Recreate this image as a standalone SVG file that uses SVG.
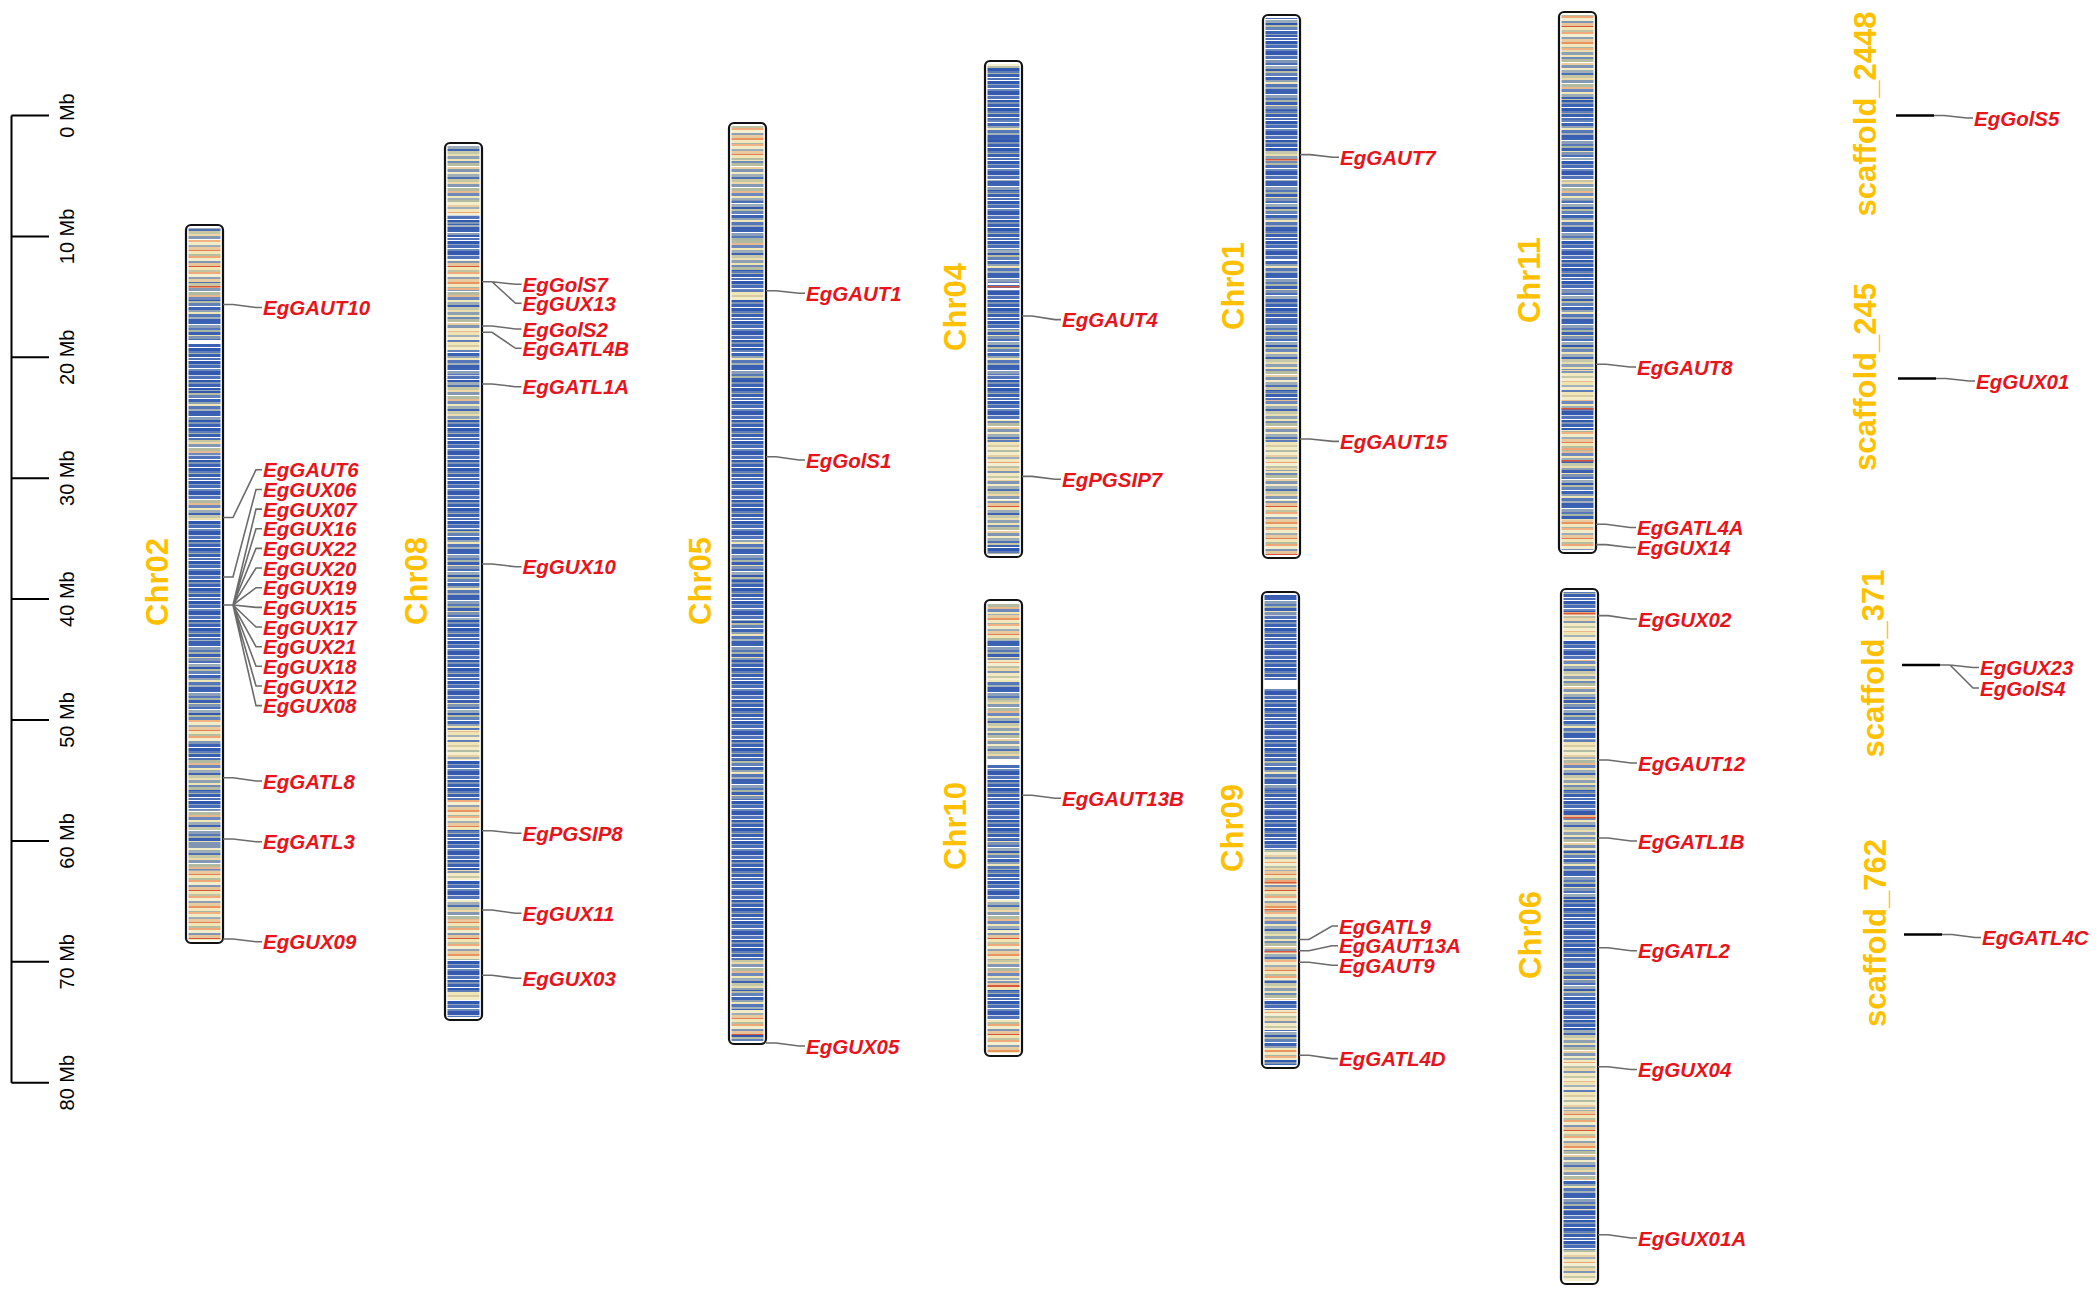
<svg xmlns="http://www.w3.org/2000/svg" width="2100" height="1292" viewBox="0 0 2100 1292">
<style>
.g{font:italic bold 20.5px "Liberation Sans",Arial,sans-serif;fill:#E8141B}
.chr{font:bold 31px "Liberation Sans",Arial,sans-serif;fill:#FFC000;text-anchor:middle}
.sc{font:20px "Liberation Sans",Arial,sans-serif;fill:#000;text-anchor:middle}
.o{fill:none;stroke:#111;stroke-width:2.2}
.c{fill:none;stroke:#6b6b6b;stroke-width:1.6}
.B{fill:url(#pB)}.M{fill:url(#pM)}.X{fill:url(#pX)}.W{fill:url(#pW)}.Y{fill:url(#pY)}
.r{fill:#D9553A}.w{fill:#fff}
</style>
<defs>
<pattern id="pB" width="10" height="40" patternUnits="userSpaceOnUse">
<rect width="10" height="40" fill="#3C62B4"/>
<rect width="10" y="0" height="1" fill="#fff"/><rect width="10" y="1" height="3" fill="#2F58B0"/><rect width="10" y="4" height="1" fill="#8FA3BC"/><rect width="10" y="5" height="3" fill="#4A6DB8"/><rect width="10" y="8" height="1" fill="#fff"/><rect width="10" y="9" height="2" fill="#6C88BC"/><rect width="10" y="11" height="4" fill="#3358AE"/><rect width="10" y="15" height="1" fill="#C9D4E6"/><rect width="10" y="16" height="3" fill="#5373B8"/><rect width="10" y="19" height="1" fill="#fff"/><rect width="10" y="20" height="2" fill="#2F58B0"/><rect width="10" y="22" height="2" fill="#7F95B3"/><rect width="10" y="24" height="3" fill="#3C62B4"/><rect width="10" y="27" height="1" fill="#fff"/><rect width="10" y="28" height="3" fill="#2F58B0"/><rect width="10" y="31" height="2" fill="#5E7DB8"/><rect width="10" y="33" height="1" fill="#A8B4A4"/><rect width="10" y="34" height="3" fill="#3A5FB2"/><rect width="10" y="37" height="1" fill="#fff"/><rect width="10" y="38" height="2" fill="#4C6FB8"/>
</pattern>
<pattern id="pM" width="10" height="46" patternUnits="userSpaceOnUse">
<rect width="10" height="46" fill="#7088B6"/>
<rect width="10" y="0" height="2" fill="#3C62B4"/><rect width="10" y="2" height="1" fill="#fff"/><rect width="10" y="3" height="3" fill="#8C9FB8"/><rect width="10" y="6" height="2" fill="#5677B8"/><rect width="10" y="8" height="2" fill="#A9B6A6"/><rect width="10" y="10" height="3" fill="#3A5FB2"/><rect width="10" y="13" height="1" fill="#E9E1B6"/><rect width="10" y="14" height="3" fill="#7F95B3"/><rect width="10" y="17" height="2" fill="#4A6DB8"/><rect width="10" y="19" height="1" fill="#fff"/><rect width="10" y="20" height="3" fill="#9AABB9"/><rect width="10" y="23" height="2" fill="#3358AE"/><rect width="10" y="25" height="2" fill="#B6BE9F"/><rect width="10" y="27" height="3" fill="#6482BA"/><rect width="10" y="30" height="1" fill="#fff"/><rect width="10" y="31" height="3" fill="#3C62B4"/><rect width="10" y="34" height="2" fill="#8FA3B5"/><rect width="10" y="36" height="2" fill="#EFE6B8"/><rect width="10" y="38" height="3" fill="#5577B8"/><rect width="10" y="41" height="2" fill="#A3B1B8"/><rect width="10" y="43" height="3" fill="#3A5FB2"/>
</pattern>
<pattern id="pX" width="10" height="52" patternUnits="userSpaceOnUse">
<rect width="10" height="52" fill="#AEB9A6"/>
<rect width="10" y="0" height="3" fill="#8EA1B4"/><rect width="10" y="3" height="2" fill="#EFE5B0"/><rect width="10" y="5" height="2" fill="#6F8AB8"/><rect width="10" y="7" height="3" fill="#B5BD9E"/><rect width="10" y="10" height="1" fill="#fff"/><rect width="10" y="11" height="2" fill="#E9CFA0"/><rect width="10" y="13" height="3" fill="#7F95B3"/><rect width="10" y="16" height="2" fill="#F3EBC6"/><rect width="10" y="18" height="3" fill="#A0AEB6"/><rect width="10" y="21" height="2" fill="#4E70B6"/><rect width="10" y="23" height="3" fill="#C7C6A2"/><rect width="10" y="26" height="2" fill="#EDD9A8"/><rect width="10" y="28" height="3" fill="#8498B4"/><rect width="10" y="31" height="1" fill="#fff"/><rect width="10" y="32" height="3" fill="#B0BBA2"/><rect width="10" y="35" height="2" fill="#E9B88E"/><rect width="10" y="37" height="3" fill="#6C88BC"/><rect width="10" y="40" height="2" fill="#F0E6B6"/><rect width="10" y="42" height="3" fill="#9DADB7"/><rect width="10" y="45" height="2" fill="#3F63B2"/><rect width="10" y="47" height="3" fill="#C4C7A8"/><rect width="10" y="50" height="2" fill="#E8DDAE"/>
</pattern>
<pattern id="pW" width="10" height="48" patternUnits="userSpaceOnUse">
<rect width="10" height="48" fill="#EDDDB0"/>
<rect width="10" y="0" height="2" fill="#F1B283"/><rect width="10" y="2" height="3" fill="#F3EBC6"/><rect width="10" y="5" height="2" fill="#9EAEB6"/><rect width="10" y="7" height="3" fill="#E9C99B"/><rect width="10" y="10" height="1" fill="#E57F55"/><rect width="10" y="11" height="3" fill="#F0E5B4"/><rect width="10" y="14" height="2" fill="#B7BE9F"/><rect width="10" y="16" height="2" fill="#EEA677"/><rect width="10" y="18" height="3" fill="#F4EDCA"/><rect width="10" y="21" height="2" fill="#7E95B6"/><rect width="10" y="23" height="3" fill="#E6C497"/><rect width="10" y="26" height="1" fill="#D9553A"/><rect width="10" y="27" height="3" fill="#EFE4B0"/><rect width="10" y="30" height="2" fill="#C1C3A3"/><rect width="10" y="32" height="2" fill="#F0A97A"/><rect width="10" y="34" height="3" fill="#F5EFCF"/><rect width="10" y="37" height="2" fill="#8EA1B4"/><rect width="10" y="39" height="3" fill="#E8CB9E"/><rect width="10" y="42" height="2" fill="#EB935F"/><rect width="10" y="44" height="3" fill="#F1E8BE"/><rect width="10" y="47" height="1" fill="#A9B4A2"/>
</pattern>
<pattern id="pY" width="10" height="50" patternUnits="userSpaceOnUse">
<rect width="10" height="50" fill="#EFE6B9"/>
<rect width="10" y="0" height="2" fill="#B2BCA2"/><rect width="10" y="2" height="3" fill="#F4EDCB"/><rect width="10" y="5" height="2" fill="#E8CFA2"/><rect width="10" y="7" height="2" fill="#9FAEB9"/><rect width="10" y="9" height="3" fill="#F1E7BB"/><rect width="10" y="12" height="1" fill="#EEA677"/><rect width="10" y="13" height="3" fill="#F5EFD2"/><rect width="10" y="16" height="2" fill="#BAC1A4"/><rect width="10" y="18" height="3" fill="#EBD7A8"/><rect width="10" y="21" height="2" fill="#7F95B6"/><rect width="10" y="23" height="3" fill="#F2E9C0"/><rect width="10" y="26" height="2" fill="#C6C7A6"/><rect width="10" y="28" height="3" fill="#F5EDCB"/><rect width="10" y="31" height="1" fill="#E9B88E"/><rect width="10" y="32" height="3" fill="#EFE3B2"/><rect width="10" y="35" height="2" fill="#A3B1B8"/><rect width="10" y="37" height="3" fill="#F4ECCA"/><rect width="10" y="40" height="2" fill="#5E7DB8"/><rect width="10" y="42" height="3" fill="#EFE5B7"/><rect width="10" y="45" height="2" fill="#D7CBA4"/><rect width="10" y="47" height="3" fill="#F3EBC5"/>
</pattern>
</defs>
<rect width="2100" height="1292" fill="#fff"/>

<g id="scale">
<path d="M11.5 115.5V1082.7M11.5 115.5H49M11.5 236.4H49M11.5 357.3H49M11.5 478.2H49M11.5 599.1H49M11.5 720H49M11.5 840.9H49M11.5 961.8H49M11.5 1082.7H49" fill="none" stroke="#000" stroke-width="2"/>
<text class="sc" transform="translate(73.5,115.5) rotate(-90)">0 Mb</text>
<text class="sc" transform="translate(73.5,236.4) rotate(-90)">10 Mb</text>
<text class="sc" transform="translate(73.5,357.3) rotate(-90)">20 Mb</text>
<text class="sc" transform="translate(73.5,478.2) rotate(-90)">30 Mb</text>
<text class="sc" transform="translate(73.5,599.1) rotate(-90)">40 Mb</text>
<text class="sc" transform="translate(73.5,720) rotate(-90)">50 Mb</text>
<text class="sc" transform="translate(73.5,840.9) rotate(-90)">60 Mb</text>
<text class="sc" transform="translate(73.5,961.8) rotate(-90)">70 Mb</text>
<text class="sc" transform="translate(73.5,1082.7) rotate(-90)">80 Mb</text>
</g>

<g id="chr02">
<rect x="186" y="225" width="37" height="718" rx="5" fill="#fff"/>
<g transform="translate(188.5,0)">
<rect class="X" width="32" y="228" height="12"/><rect class="W" width="32" y="240" height="42"/><rect class="X" width="32" y="282" height="18"/><rect class="M" width="32" y="300" height="40"/><rect class="w" width="32" y="340" height="4"/><rect class="B" width="32" y="344" height="46"/><rect class="M" width="32" y="390" height="30"/><rect class="B" width="32" y="420" height="20"/><rect class="X" width="32" y="440" height="15"/><rect class="B" width="32" y="455" height="45"/><rect class="X" width="32" y="500" height="20"/><rect class="B" width="32" y="520" height="120"/><rect class="M" width="32" y="640" height="80"/><rect class="W" width="32" y="720" height="22"/><rect class="B" width="32" y="742" height="18"/><rect class="X" width="32" y="760" height="30"/><rect class="B" width="32" y="790" height="20"/><rect class="X" width="32" y="810" height="20"/><rect class="M" width="32" y="830" height="15"/><rect class="X" width="32" y="845" height="25"/><rect class="W" width="32" y="870" height="70"/>
<rect class="r" width="32" y="286" height="1.5"/>
</g>
<rect class="o" x="186" y="225" width="37" height="718" rx="5"/>
<text class="chr" transform="translate(168,582) rotate(-90)">Chr02</text>
</g>

<g id="chr08">
<rect x="445" y="143" width="37" height="877" rx="5" fill="#fff"/>
<g transform="translate(447.5,0)">
<rect class="X" width="32" y="146" height="54"/><rect class="Y" width="32" y="200" height="15"/><rect class="B" width="32" y="215" height="10"/><rect class="M" width="32" y="225" height="10"/><rect class="B" width="32" y="235" height="25"/><rect class="W" width="32" y="260" height="30"/><rect class="X" width="32" y="290" height="40"/><rect class="Y" width="32" y="330" height="20"/><rect class="M" width="32" y="350" height="25"/><rect class="B" width="32" y="375" height="7"/><rect class="X" width="32" y="382" height="38"/><rect class="B" width="32" y="420" height="110"/><rect class="M" width="32" y="530" height="90"/><rect class="B" width="32" y="620" height="80"/><rect class="M" width="32" y="700" height="30"/><rect class="Y" width="32" y="730" height="30"/><rect class="B" width="32" y="760" height="40"/><rect class="W" width="32" y="800" height="30"/><rect class="B" width="32" y="830" height="40"/><rect class="Y" width="32" y="870" height="10"/><rect class="B" width="32" y="880" height="20"/><rect class="X" width="32" y="900" height="20"/><rect class="W" width="32" y="920" height="40"/><rect class="B" width="32" y="960" height="30"/><rect class="Y" width="32" y="990" height="10"/><rect class="B" width="32" y="1000" height="17"/>
</g>
<rect class="o" x="445" y="143" width="37" height="877" rx="5"/>
<text class="chr" transform="translate(426.5,581) rotate(-90)">Chr08</text>
</g>

<g id="chr05">
<rect x="729" y="123" width="37" height="921" rx="5" fill="#fff"/>
<g transform="translate(731.5,0)">
<rect class="W" width="32" y="126" height="34"/><rect class="X" width="32" y="160" height="40"/><rect class="M" width="32" y="200" height="40"/><rect class="X" width="32" y="240" height="30"/><rect class="B" width="32" y="270" height="20"/><rect class="Y" width="32" y="290" height="10"/><rect class="B" width="32" y="300" height="50"/><rect class="M" width="32" y="350" height="30"/><rect class="B" width="32" y="380" height="160"/><rect class="M" width="32" y="540" height="40"/><rect class="B" width="32" y="580" height="40"/><rect class="M" width="32" y="620" height="40"/><rect class="B" width="32" y="660" height="100"/><rect class="M" width="32" y="760" height="40"/><rect class="B" width="32" y="800" height="160"/><rect class="X" width="32" y="960" height="30"/><rect class="M" width="32" y="990" height="20"/><rect class="W" width="32" y="1010" height="25"/><rect class="M" width="32" y="1035" height="6"/>
</g>
<rect class="o" x="729" y="123" width="37" height="921" rx="5"/>
<text class="chr" transform="translate(711,581) rotate(-90)">Chr05</text>
</g>

<g id="chr04">
<rect x="985" y="61" width="37" height="496" rx="5" fill="#fff"/>
<g transform="translate(987.5,0)">
<rect class="Y" width="32" y="64" height="4"/><rect class="B" width="32" y="68" height="52"/><rect class="M" width="32" y="120" height="20"/><rect class="B" width="32" y="140" height="40"/><rect class="M" width="32" y="180" height="10"/><rect class="B" width="32" y="190" height="60"/><rect class="M" width="32" y="250" height="33"/><rect class="B" width="32" y="283" height="47"/><rect class="M" width="32" y="330" height="45"/><rect class="B" width="32" y="375" height="45"/><rect class="X" width="32" y="420" height="20"/><rect class="Y" width="32" y="440" height="40"/><rect class="X" width="32" y="480" height="20"/><rect class="W" width="32" y="500" height="10"/><rect class="X" width="32" y="510" height="35"/><rect class="B" width="32" y="545" height="9"/>
<rect class="w" width="32" y="283" height="2"/><rect class="r" width="32" y="286" height="1.5"/><rect class="w" width="32" y="288" height="2"/>
</g>
<rect class="o" x="985" y="61" width="37" height="496" rx="5"/>
<text class="chr" transform="translate(966,307) rotate(-90)">Chr04</text>
</g>

<g id="chr10">
<rect x="985" y="600" width="37" height="456" rx="5" fill="#fff"/>
<g transform="translate(987.5,0)">
<rect class="X" width="32" y="603" height="12"/><rect class="W" width="32" y="615" height="25"/><rect class="M" width="32" y="640" height="20"/><rect class="Y" width="32" y="660" height="20"/><rect class="M" width="32" y="680" height="20"/><rect class="X" width="32" y="700" height="60"/><rect class="w" width="32" y="760" height="5"/><rect class="B" width="32" y="765" height="75"/><rect class="M" width="32" y="840" height="30"/><rect class="B" width="32" y="870" height="30"/><rect class="X" width="32" y="900" height="30"/><rect class="W" width="32" y="930" height="30"/><rect class="X" width="32" y="960" height="20"/><rect class="W" width="32" y="980" height="10"/><rect class="B" width="32" y="990" height="30"/><rect class="W" width="32" y="1020" height="33"/>
<rect class="r" width="32" y="985" height="1.5"/>
</g>
<rect class="o" x="985" y="600" width="37" height="456" rx="5"/>
<text class="chr" transform="translate(966,826) rotate(-90)">Chr10</text>
</g>

<g id="chr01">
<rect x="1263" y="15" width="37" height="543" rx="5" fill="#fff"/>
<g transform="translate(1265.5,0)">
<rect class="M" width="32" y="18" height="17"/><rect class="B" width="32" y="35" height="25"/><rect class="M" width="32" y="60" height="50"/><rect class="B" width="32" y="110" height="40"/><rect class="X" width="32" y="150" height="15"/><rect class="B" width="32" y="165" height="15"/><rect class="M" width="32" y="180" height="50"/><rect class="B" width="32" y="230" height="30"/><rect class="M" width="32" y="260" height="40"/><rect class="B" width="32" y="300" height="20"/><rect class="M" width="32" y="320" height="30"/><rect class="X" width="32" y="350" height="40"/><rect class="B" width="32" y="390" height="10"/><rect class="X" width="32" y="400" height="40"/><rect class="Y" width="32" y="440" height="30"/><rect class="X" width="32" y="470" height="30"/><rect class="W" width="32" y="500" height="55"/>
<rect class="r" width="32" y="159" height="1.5"/>
</g>
<rect class="o" x="1263" y="15" width="37" height="543" rx="5"/>
<text class="chr" transform="translate(1244,286) rotate(-90)">Chr01</text>
</g>

<g id="chr09">
<rect x="1262" y="592" width="37" height="476" rx="5" fill="#fff"/>
<g transform="translate(1264.5,0)">
<rect class="M" width="32" y="595" height="20"/><rect class="B" width="32" y="615" height="65"/><rect class="w" width="32" y="680" height="8"/><rect class="B" width="32" y="688" height="72"/><rect class="M" width="32" y="760" height="30"/><rect class="B" width="32" y="790" height="60"/><rect class="Y" width="32" y="850" height="20"/><rect class="W" width="32" y="870" height="50"/><rect class="X" width="32" y="920" height="40"/><rect class="W" width="32" y="960" height="20"/><rect class="X" width="32" y="980" height="20"/><rect class="B" width="32" y="1000" height="10"/><rect class="Y" width="32" y="1010" height="20"/><rect class="M" width="32" y="1030" height="20"/><rect class="W" width="32" y="1050" height="10"/><rect class="B" width="32" y="1060" height="5"/>
<rect class="r" width="32" y="882" height="1.5"/><rect class="r" width="32" y="909" height="1.5"/><rect class="r" width="32" y="951" height="1.5"/>
</g>
<rect class="o" x="1262" y="592" width="37" height="476" rx="5"/>
<text class="chr" transform="translate(1243,828) rotate(-90)">Chr09</text>
</g>

<g id="chr11">
<rect x="1559" y="12" width="37" height="541" rx="5" fill="#fff"/>
<g transform="translate(1561.5,0)">
<rect class="W" width="32" y="15" height="35"/><rect class="X" width="32" y="50" height="50"/><rect class="B" width="32" y="100" height="20"/><rect class="M" width="32" y="120" height="40"/><rect class="B" width="32" y="160" height="20"/><rect class="X" width="32" y="180" height="20"/><rect class="M" width="32" y="200" height="40"/><rect class="B" width="32" y="240" height="50"/><rect class="M" width="32" y="290" height="60"/><rect class="X" width="32" y="350" height="20"/><rect class="Y" width="32" y="370" height="30"/><rect class="X" width="32" y="400" height="10"/><rect class="B" width="32" y="410" height="20"/><rect class="W" width="32" y="430" height="20"/><rect class="X" width="32" y="450" height="20"/><rect class="M" width="32" y="470" height="50"/><rect class="W" width="32" y="520" height="30"/>
<rect class="r" width="32" y="408" height="1.5"/><rect class="r" width="32" y="460" height="1.5"/>
</g>
<rect class="o" x="1559" y="12" width="37" height="541" rx="5"/>
<text class="chr" transform="translate(1540,280) rotate(-90)">Chr11</text>
</g>

<g id="chr06">
<rect x="1561" y="589" width="37" height="695" rx="5" fill="#fff"/>
<g transform="translate(1563.5,0)">
<rect class="B" width="32" y="592" height="20"/><rect class="Y" width="32" y="612" height="28"/><rect class="B" width="32" y="640" height="20"/><rect class="X" width="32" y="660" height="40"/><rect class="M" width="32" y="700" height="40"/><rect class="Y" width="32" y="740" height="20"/><rect class="X" width="32" y="760" height="30"/><rect class="B" width="32" y="790" height="25"/><rect class="X" width="32" y="815" height="35"/><rect class="M" width="32" y="850" height="50"/><rect class="B" width="32" y="900" height="60"/><rect class="M" width="32" y="960" height="40"/><rect class="B" width="32" y="1000" height="30"/><rect class="X" width="32" y="1030" height="30"/><rect class="Y" width="32" y="1060" height="50"/><rect class="W" width="32" y="1110" height="40"/><rect class="X" width="32" y="1150" height="30"/><rect class="M" width="32" y="1180" height="30"/><rect class="B" width="32" y="1210" height="40"/><rect class="Y" width="32" y="1250" height="31"/>
<rect class="r" width="32" y="613" height="1.5"/><rect class="r" width="32" y="817" height="1.5"/>
</g>
<rect class="o" x="1561" y="589" width="37" height="695" rx="5"/>
<text class="chr" transform="translate(1541,935) rotate(-90)">Chr06</text>
</g>

<g id="scaffold_2448">
<path d="M1896 115.5H1934" stroke="#000" stroke-width="2.5"/>
<text class="chr" transform="translate(1876,114) rotate(-90)">scaffold_2448</text>
</g>
<g id="scaffold_245">
<path d="M1898 378.5H1936" stroke="#000" stroke-width="2.5"/>
<text class="chr" transform="translate(1876,377) rotate(-90)">scaffold_245</text>
</g>
<g id="scaffold_371">
<path d="M1902 665H1940" stroke="#000" stroke-width="2.5"/>
<text class="chr" transform="translate(1884,663.5) rotate(-90)">scaffold_371</text>
</g>
<g id="scaffold_762">
<path d="M1904 934.5H1942" stroke="#000" stroke-width="2.5"/>
<text class="chr" transform="translate(1886,933) rotate(-90)">scaffold_762</text>
</g>

<g id="connectors">
<path class="c" d="M223 304.5H233L256 307.5H262M223 517.5H233L256 469.8H262M223 577H233L256 489.5H262M223 605H233L256 509.1H262M223 605H233L256 528.7H262M223 605H233L256 548.4H262M223 605H233L256 568H262M223 605H233L256 587.7H262M223 605H233L256 607.4H262M223 605H233L256 627H262M223 605H233L256 646.7H262M223 605H233L256 666.3H262M223 605H233L256 686H262M223 605H233L256 705.6H262M223 777.7H233L256 781H262M223 839H233L256 841.7H262M223 939H233L256 941.7H262"/>
<path class="c" d="M482 281.7H492L515.5 284.3H521.5M482 281.7H492L515.5 303.3H521.5M482 326H492L515.5 329H521.5M482 332.3H492L515.5 348.3H521.5M482 384H492L515.5 386.7H521.5M482 564H492L515.5 566.7H521.5M482 830.7H492L515.5 833.3H521.5M482 910H492L515.5 913.3H521.5M482 975.3H492L515.5 978.3H521.5"/>
<path class="c" d="M766 290.7H776L799 293.3H805M766 456.7H776L799 460H805M766 1043H776L799 1046H805"/>
<path class="c" d="M1022 316H1032L1055 319.6H1061M1022 476.4H1032L1055 479.3H1061M1022 795.3H1032L1055 798.3H1061"/>
<path class="c" d="M1300 154.6H1310L1333 157.2H1339M1300 439H1310L1333 441.4H1339M1299 939.5H1309L1332 926H1338M1299 950.8H1309L1332 945.7H1338M1299 962.2H1309L1332 965.3H1338M1299 1055.2H1309L1332 1058.6H1338"/>
<path class="c" d="M1596 364.3H1606L1630 367H1636M1596 524.3H1606L1630 527.5H1636M1596 544.6H1606L1630 547.5H1636M1598 615.6H1608L1631 619H1637M1598 760H1608L1631 763H1637M1598 838H1608L1631 841H1637M1598 947.7H1608L1631 950.7H1637M1598 1066.8H1608L1631 1069.5H1637M1598 1234.7H1608L1631 1238H1637"/>
<path class="c" d="M1934 115.5H1944L1967 118H1973M1936 378.5H1946L1969 381H1975M1940 665H1950L1973 667.5H1979M1940 665H1950L1973 688H1979M1942 934.5H1952L1975 937.5H1981"/>
</g>

<g id="genes">
<text class="g" x="263" y="315">EgGAUT10</text>
<text class="g" x="263" y="477.3">EgGAUT6</text>
<text class="g" x="263" y="497">EgGUX06</text>
<text class="g" x="263" y="516.6">EgGUX07</text>
<text class="g" x="263" y="536.2">EgGUX16</text>
<text class="g" x="263" y="555.9">EgGUX22</text>
<text class="g" x="263" y="575.5">EgGUX20</text>
<text class="g" x="263" y="595.2">EgGUX19</text>
<text class="g" x="263" y="614.9">EgGUX15</text>
<text class="g" x="263" y="634.5">EgGUX17</text>
<text class="g" x="263" y="654.2">EgGUX21</text>
<text class="g" x="263" y="673.8">EgGUX18</text>
<text class="g" x="263" y="693.5">EgGUX12</text>
<text class="g" x="263" y="713.1">EgGUX08</text>
<text class="g" x="263" y="788.5">EgGATL8</text>
<text class="g" x="263" y="849.2">EgGATL3</text>
<text class="g" x="263" y="949.2">EgGUX09</text>
<text class="g" x="522.5" y="291.8">EgGolS7</text>
<text class="g" x="522.5" y="310.8">EgGUX13</text>
<text class="g" x="522.5" y="336.5">EgGolS2</text>
<text class="g" x="522.5" y="355.8">EgGATL4B</text>
<text class="g" x="522.5" y="394.2">EgGATL1A</text>
<text class="g" x="522.5" y="574.2">EgGUX10</text>
<text class="g" x="522.5" y="840.8">EgPGSIP8</text>
<text class="g" x="522.5" y="920.8">EgGUX11</text>
<text class="g" x="522.5" y="985.8">EgGUX03</text>
<text class="g" x="806" y="300.8">EgGAUT1</text>
<text class="g" x="806" y="467.5">EgGolS1</text>
<text class="g" x="806" y="1053.5">EgGUX05</text>
<text class="g" x="1062" y="327.1">EgGAUT4</text>
<text class="g" x="1062" y="486.8">EgPGSIP7</text>
<text class="g" x="1062" y="805.8">EgGAUT13B</text>
<text class="g" x="1340" y="164.7">EgGAUT7</text>
<text class="g" x="1340" y="448.9">EgGAUT15</text>
<text class="g" x="1339" y="933.5">EgGATL9</text>
<text class="g" x="1339" y="953.2">EgGAUT13A</text>
<text class="g" x="1339" y="972.8">EgGAUT9</text>
<text class="g" x="1339" y="1066.1">EgGATL4D</text>
<text class="g" x="1637" y="374.5">EgGAUT8</text>
<text class="g" x="1637" y="535">EgGATL4A</text>
<text class="g" x="1637" y="555">EgGUX14</text>
<text class="g" x="1638" y="626.5">EgGUX02</text>
<text class="g" x="1638" y="770.5">EgGAUT12</text>
<text class="g" x="1638" y="848.5">EgGATL1B</text>
<text class="g" x="1638" y="958.2">EgGATL2</text>
<text class="g" x="1638" y="1077">EgGUX04</text>
<text class="g" x="1638" y="1245.5">EgGUX01A</text>
<text class="g" x="1974" y="125.5">EgGolS5</text>
<text class="g" x="1976" y="388.5">EgGUX01</text>
<text class="g" x="1980" y="675">EgGUX23</text>
<text class="g" x="1980" y="695.5">EgGolS4</text>
<text class="g" x="1982" y="945">EgGATL4C</text>
</g>
</svg>
